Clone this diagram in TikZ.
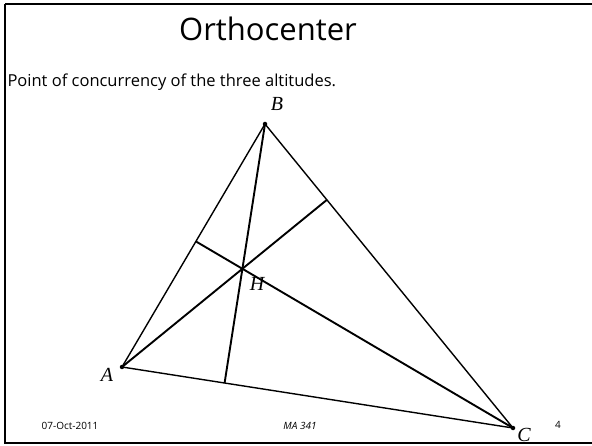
\documentclass[tikz,border=0pt]{standalone}
\usepackage{fontspec}
\setmainfont{Open Sans}
\newfontfamily\labelfont{Liberation Serif}
\usetikzlibrary{calc}
\begin{document}
\begin{tikzpicture}[x=1pt,y=1pt,
  side/.style={line width=1.4pt,black},
  alt/.style={line width=1.9pt,black},
  vdot/.style={circle,fill=black,inner sep=0pt,minimum size=4.5pt},
  vlabel/.style={font=\labelfont\itshape\fontsize{20}{20}\selectfont},
  foot/.style={font=\fontsize{10}{10}\selectfont}]
\useasboundingbox (0,0) rectangle (592,-446);
\fill[white] (0,0) rectangle (592,-446);
\begin{scope}
\clip (0,0) rectangle (592,-446);
\draw[line width=2.6pt] (5,-4) -- (600,-4);
\draw[line width=2.6pt] (5,-4) -- (5,-443) -- (600,-443);
\end{scope}
\node[font=\fontsize{31}{31}\selectfont] (title) at (268,-29) {Orthocenter};
\node[font=\fontsize{16.5}{18}\selectfont,anchor=west] (sub) at (4,-82) {Point of concurrency of the three altitudes.};
\coordinate (A) at (122,-367);
\coordinate (B) at (265,-124);
\coordinate (C) at (513,-428);
\coordinate (Fb) at ($(A)!(B)!(C)$);
\coordinate (Fc) at ($(A)!(C)!(B)$);
\coordinate (Fa) at ($(B)!(A)!(C)$);
\draw[side] (A) -- (B) -- (C) -- cycle;
\draw[alt] (B) -- (Fb);
\draw[alt] (C) -- (Fc);
\draw[alt] (A) -- (Fa);
\node[vdot] (dA) at (A) {};
\node[vdot] (dB) at (B) {};
\node[vdot] (dC) at (C) {};
\node[vlabel] (lA) at (107,-375) {A};
\node[vlabel] (lB) at (277,-104) {B};
\node[vlabel] (lC) at (524,-435) {C};
\node[vlabel] (lH) at (257,-284) {H};
\node[foot] (date) at (70,-426) {07-Oct-2011};
\node[foot] (course) at (300,-426) {\itshape MA 341};
\node[foot] (page) at (558,-425) {4};
\end{tikzpicture}
\end{document}
